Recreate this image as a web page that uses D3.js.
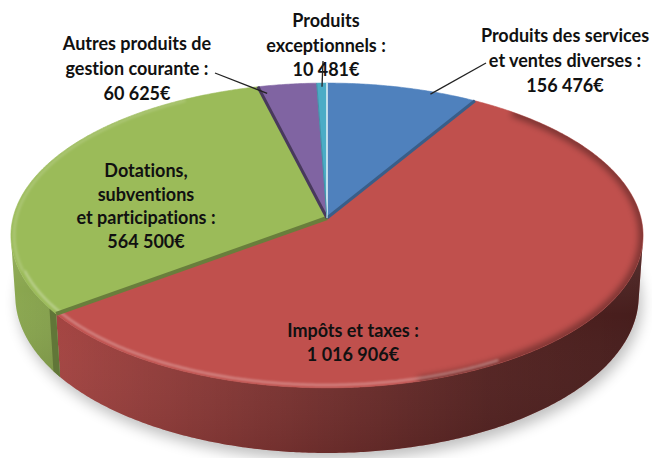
<!DOCTYPE html>
<html><head><meta charset="utf-8">
<script src="https://cdn.jsdelivr.net/npm/d3@7/dist/d3.min.js"></script>
<style>html,body{margin:0;padding:0;background:#fff;}svg{display:block;}text{font-variant-ligatures:none;font-feature-settings:"liga" 0;}</style>
</head><body>
<svg id="chart" width="652" height="458"></svg>
<script>
// ---- data ----
const categories = ["Produits des services et ventes diverses", "Impôts et taxes", "Dotations, subventions et participations", "Autres produits de gestion courante", "Produits exceptionnels"];
const values = [156476, 1016906, 564500, 60625, 10481];
const labelLines = [["Produits des services", "et ventes diverses :"], ["Impôts et taxes :"], ["Dotations,", "subventions", "et participations :"], ["Autres produits de", "gestion courante :"], ["Produits", "exceptionnels :"]];
const colors = ["#4F81BD", "#C0504D", "#9BBB59", "#8064A2", "#4BACC6"];

// ---- layout (positions kept separate from data) ----
const labelPos = [
  {x: 565, y: 42, dy: 25, leader: [[486, 63], 0.7, 0.98]},
  {x: 353, y: 337, dy: 24, leader: null},
  {x: 146, y: 177, dy: 23.7, leader: null},
  {x: 137, y: 50, dy: 25, leader: [[215, 73], 0.1, 0.94]},
  {x: 326, y: 27, dy: 24.5, leader: [[323, 61], 0.5, 0.97]}
];

const fmt = d3.formatLocale({decimal: ",", thousands: " ", grouping: [3], currency: ["", "€"]}).format("$,d");

const svg = d3.select("#chart");
const cx = 327, cy = 218, f = 2405, D = 7.66;
const s = 0.479, c = Math.sqrt(1 - s * s), h = 0.221;

function proj(a, r, y) {
  const x = r * Math.sin(a), z = -r * Math.cos(a);
  const depth = D - y * s - z * c;
  return [cx + f * x / depth, cy - f * (y * c - z * s) / depth];
}
function arcPts(a0, a1, r, y) {
  const n = Math.max(2, Math.ceil(Math.abs(a1 - a0) / (Math.PI / 360)));
  return d3.range(n + 1).map(i => proj(a0 + (a1 - a0) * i / n, r, y));
}
const line = d3.line();
const deg = Math.PI / 180;

const arcs = d3.pie().sort(null).value(d => d)(values);

const defs = svg.append("defs");
function blurFilter(id, sd) {
  defs.append("filter").attr("id", id).attr("x", "-30%").attr("y", "-30%").attr("width", "160%").attr("height", "160%")
    .append("feGaussianBlur").attr("stdDeviation", sd);
}
blurFilter("blur", 7); blurFilter("blur3", 3); blurFilter("blur1", 1);
const shade = defs.append("linearGradient").attr("id", "shade").attr("gradientUnits", "userSpaceOnUse")
  .attr("x1", 8).attr("x2", 646).attr("y1", 0).attr("y2", 0);
[[0, 0.10], [0.1, 0.16], [0.4, 0.34], [0.75, 0.56], [1, 0.64]].forEach(([o, a]) =>
  shade.append("stop").attr("offset", o).attr("stop-color", "#000").attr("stop-opacity", a));
const vshade = defs.append("linearGradient").attr("id", "vshade").attr("x1", 0).attr("x2", 0).attr("y1", 0).attr("y2", 1);
vshade.append("stop").attr("offset", 0).attr("stop-color", "#fff").attr("stop-opacity", 0.10);
vshade.append("stop").attr("offset", 0.35).attr("stop-color", "#fff").attr("stop-opacity", 0);
vshade.append("stop").attr("offset", 1).attr("stop-color", "#000").attr("stop-opacity", 0.08);

// shadow
const shadowPts = arcPts(0, 2 * Math.PI, 1.0, -h).map(p => [p[0] + 3, p[1] + 7]);
svg.append("path").attr("d", line(shadowPts) + "Z").attr("fill", "#000").attr("opacity", 0.25).attr("filter", "url(#blur)");

// walls (visible where z > 1/(D c))
const k = 1 / (D * c);
const visLo = Math.acos(-k), visHi = 2 * Math.PI - visLo;
const wallG = svg.append("g");
arcs.forEach((d, i) => {
  const lo = Math.max(d.startAngle, visLo), hi = Math.min(d.endAngle, visHi);
  if (hi <= lo) return;
  const top = arcPts(lo, hi, 1, 0), bot = arcPts(lo, hi, 1, -h).reverse();
  const dd = line(top.concat(bot)) + "Z";
  wallG.append("path").attr("d", dd).attr("fill", colors[i]);
  wallG.append("path").attr("d", dd).attr("fill", "url(#shade)");
  wallG.append("path").attr("d", dd).attr("fill", "url(#vshade)");
});
// dark edge on the green wall at the red boundary
{
  const a = arcs[2].startAngle;
  const p0 = proj(a, 1, 0), p1 = proj(a, 1, -h), p2 = proj(a + 0.04, 1, -h), p3 = proj(a + 0.04, 1, 0);
  wallG.append("path").attr("d", line([p0, p1, p2, p3]) + "Z").attr("fill", d3.color(colors[2]).darker(1.3));
}

// top faces
const topPath = line(arcPts(0, 2 * Math.PI, 1, 0)) + "Z";
defs.append("clipPath").attr("id", "topclip").append("path").attr("d", topPath);
const topG = svg.append("g");
arcs.forEach((d, i) => {
  const pts = arcPts(d.startAngle, d.endAngle, 1, 0).concat([proj(0, 0, 0)]);
  topG.append("path").attr("d", line(pts) + "Z").attr("fill", colors[i])
    .attr("stroke", colors[i]).attr("stroke-width", 0.6).attr("stroke-linejoin", "round");
});
// soft bevel: darker rim on the right, highlight on the front
const bevG = topG.append("g").attr("clip-path", "url(#topclip)");
bevG.append("path").attr("d", line(arcPts(40 * deg, 165 * deg, 1.0, 0))).attr("fill", "none")
  .attr("stroke", "#000").attr("stroke-opacity", 0.35).attr("stroke-width", 9).attr("filter", "url(#blur3)");
bevG.append("path").attr("d", line(arcPts(150 * deg, 250 * deg, 0.985, 0))).attr("fill", "none")
  .attr("stroke", "#fff").attr("stroke-opacity", 0.3).attr("stroke-width", 2.5).attr("filter", "url(#blur1)");
bevG.append("path").attr("d", line(arcPts(250 * deg, 330 * deg, 0.99, 0))).attr("fill", "none")
  .attr("stroke", "#fff").attr("stroke-opacity", 0.15).attr("stroke-width", 3).attr("filter", "url(#blur1)");

// radial bevel edges
function radial(a, col, w) {
  topG.append("path").attr("d", line([proj(a, 0.0, 0), proj(a, 1, 0)])).attr("stroke", col).attr("stroke-width", w).attr("fill", "none");
}
radial(arcs[0].endAngle, d3.color(colors[0]).darker(0.9), 3);
radial(arcs[2].startAngle, d3.color(colors[2]).darker(1.1), 4);
radial(arcs[3].startAngle, d3.color(colors[3]).darker(1.6), 3);
radial(arcs[4].endAngle, "#e8f4f8", 1.5);
radial(arcs[4].startAngle, d3.color(colors[4]).darker(0.6), 0.8);

// labels
const lblG = svg.append("g").attr("font-family", "Lato, 'Open Sans', sans-serif").attr("font-weight", 700)
  .attr("font-size", 18).attr("fill", "#111").attr("text-anchor", "middle");
arcs.forEach((d, i) => {
  const L = labelPos[i];
  const lines = labelLines[i].concat([fmt(values[i])]);
  lines.forEach((t, j) => lblG.append("text").attr("x", L.x).attr("y", L.y + j * L.dy).text(t));
  if (L.leader) {
    const [start, frac, r] = L.leader;
    const a = d.startAngle + (d.endAngle - d.startAngle) * frac;
    const end = proj(a, r, 0);
    svg.append("path").attr("d", line([start, end])).attr("stroke", "#222").attr("stroke-width", 1.3).attr("fill", "none");
  }
});
</script>
</body></html>
